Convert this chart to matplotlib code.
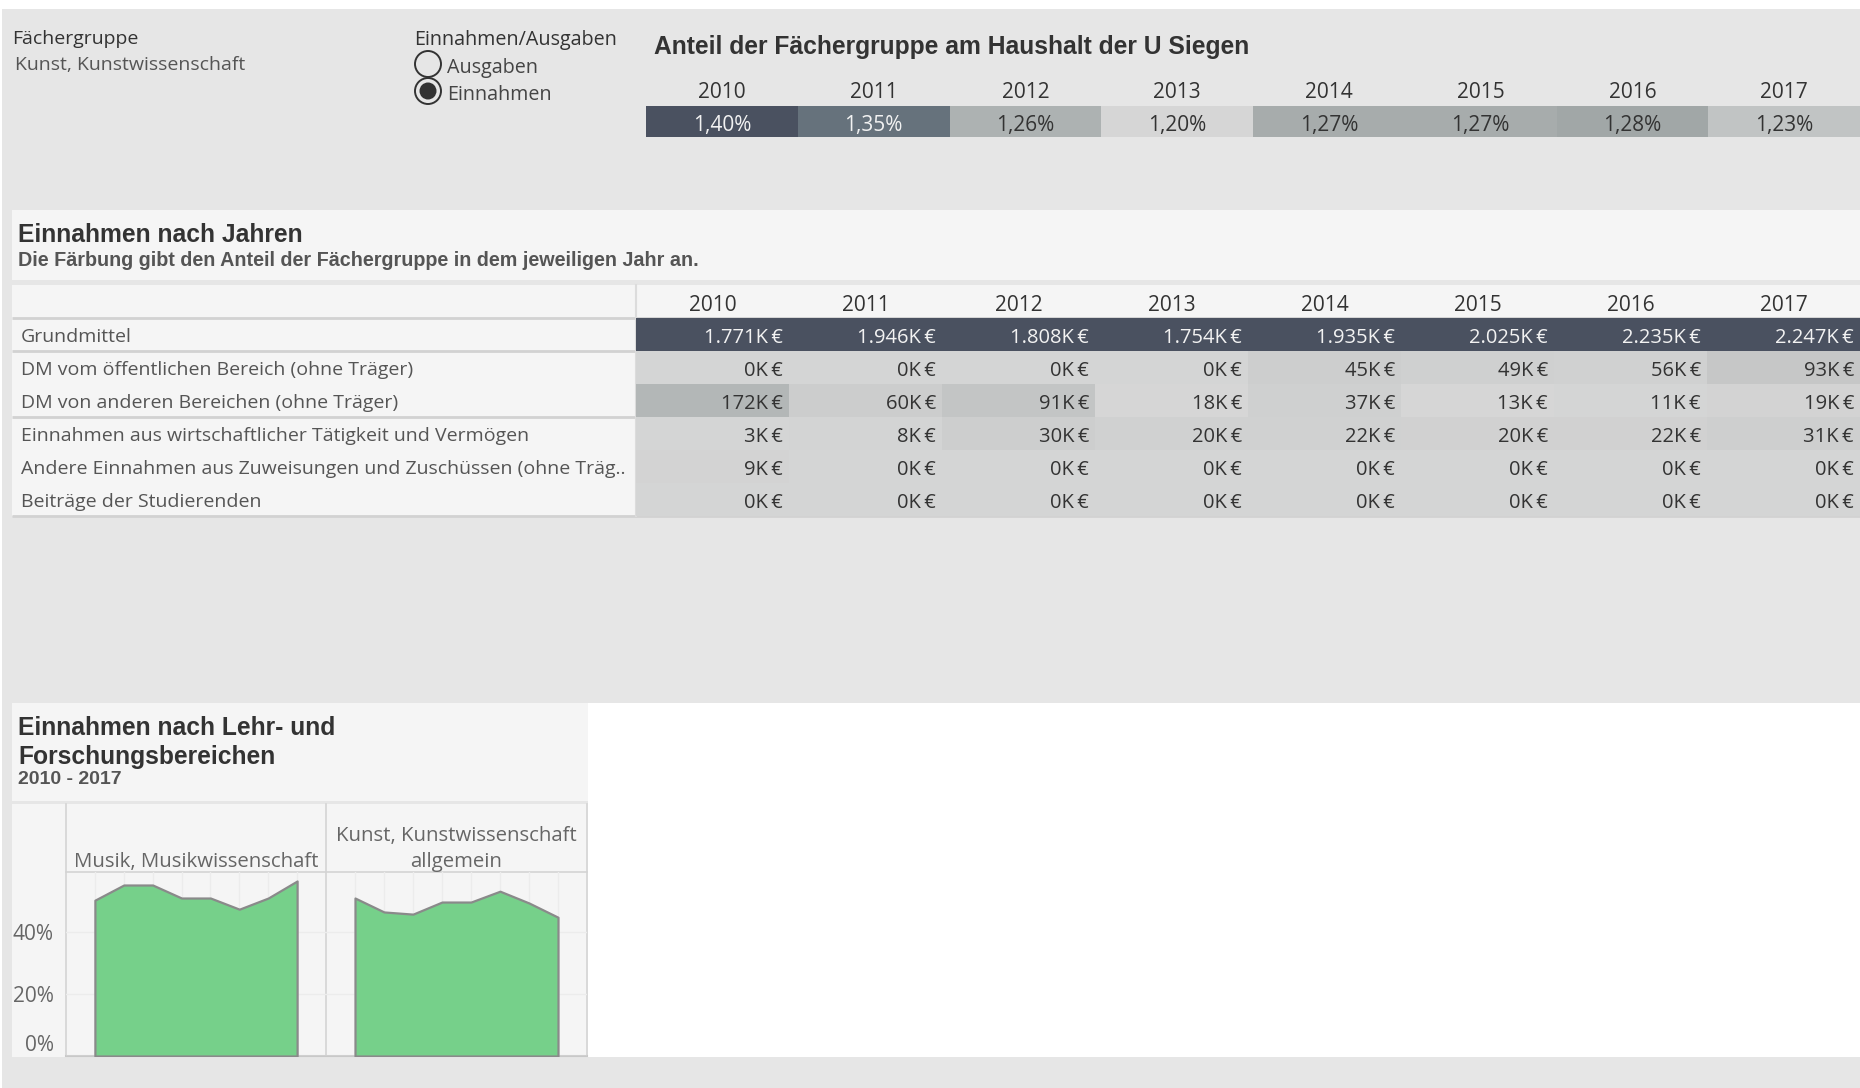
import numpy as np
import matplotlib
matplotlib.use('Agg')
import matplotlib.pyplot as plt
from matplotlib.colors import LinearSegmentedColormap, Normalize
from matplotlib.patches import Rectangle, Circle
from matplotlib.transforms import offset_copy

W, H = 1860, 1088

jahre = ['2010', '2011', '2012', '2013', '2014', '2015', '2016', '2017']
anteil_haushalt = [1.40, 1.35, 1.26, 1.20, 1.27, 1.27, 1.28, 1.23]

kategorien = [
    'Grundmittel',
    'DM vom öffentlichen Bereich (ohne Träger)',
    'DM von anderen Bereichen (ohne Träger)',
    'Einnahmen aus wirtschaftlicher Tätigkeit und Vermögen',
    'Andere Einnahmen aus Zuweisungen und Zuschüssen (ohne Träg..',
    'Beiträge der Studierenden',
]
# Einnahmen in K€
grundmittel = [1771, 1946, 1808, 1754, 1935, 2025, 2235, 2247]
dm_oeffentlich = [0, 0, 0, 0, 45, 49, 56, 93]
dm_andere = [172, 60, 91, 18, 37, 13, 11, 19]
wirtschaft = [3, 8, 30, 20, 22, 20, 22, 31]
zuweisungen = [9, 0, 0, 0, 0, 0, 0, 0]
beitraege = [0, 0, 0, 0, 0, 0, 0, 0]
# Anteil der Fächergruppe (Färbung, geschätzt in %)
faerb_grund = [1.5, 1.5, 1.5, 1.5, 1.5, 1.5, 1.5, 1.5]
faerb_oeff = [0.02, 0.02, 0.02, 0.02, 0.10, 0.08, 0.07, 0.18]
faerb_andere = [0.37, 0.11, 0.21, 0.0, 0.08, 0.0, 0.02, 0.04]
faerb_wirt = [0.02, 0.03, 0.10, 0.07, 0.07, 0.06, 0.06, 0.09]
faerb_zuw = [0.04, 0.02, 0.02, 0.02, 0.02, 0.02, 0.02, 0.02]
faerb_beitr = [0.02, 0.02, 0.02, 0.02, 0.02, 0.02, 0.02, 0.02]

bereiche = ['Musik, Musikwissenschaft', 'Kunst, Kunstwissenschaft\nallgemein']
anteil_musik = [50.3, 55.2, 55.2, 51.0, 51.0, 47.4, 51.0, 56.5]
anteil_kunst = [51.0, 46.5, 45.8, 49.7, 49.7, 53.2, 49.4, 44.8]

FONT = ['Open Sans', 'DejaVu Sans']
TFONT = ['Liberation Sans', 'DejaVu Sans']
plt.rcParams['font.family'] = FONT

cmap = LinearSegmentedColormap.from_list(
    'tab_grau', [(0, '#d6d6d6'), (0.25, '#b3b7b7'), (0.5, '#959c9c'),
                 (0.75, '#66727c'), (1, '#4a5160')])

fig = plt.figure(figsize=(W / 100, H / 100), dpi=100)
fig.patch.set_facecolor('white')


def px_axes(x0, y0, x1, y1):
    return fig.add_axes([x0 / W, 1 - y1 / H, (x1 - x0) / W, (y1 - y0) / H])


bg = px_axes(0, 0, W, H)
bg.set_xlim(0, W)
bg.set_ylim(H, 0)
bg.axis('off')

bg.add_patch(Rectangle((2, 9), W, H, color='#e6e6e6', lw=0))
# panels
bg.add_patch(Rectangle((12, 210), W, 70, color='#f5f5f5', lw=0))
bg.add_patch(Rectangle((12, 285), W, 231, color='#f5f5f5', lw=0))
bg.add_patch(Rectangle((12, 703), 576, 98, color='#f5f5f5', lw=0))
bg.add_patch(Rectangle((12, 804), 576, 253, color='#f5f5f5', lw=0))
bg.add_patch(Rectangle((588, 703), W, 354, color='white', lw=0))

# filters
bg.text(12, 37, 'Fächergruppe', fontsize=14, color='#333333', va='center_baseline')
bg.text(15, 63, 'Kunst, Kunstwissenschaft', fontsize=14, color='#555555', va='center_baseline')
bg.text(414, 37, 'Einnahmen/Ausgaben', fontsize=14.2, color='#333333', va='center_baseline')
bg.add_patch(Circle((428, 64), 13, fill=False, ec='#333333', lw=1.4))
bg.add_patch(Circle((428, 91), 13, fill=False, ec='#333333', lw=1.4))
bg.add_patch(Circle((428, 91), 8.5, color='#333333', lw=0))
bg.text(447, 65, 'Ausgaben', fontsize=14.2, color='#444444', va='center_baseline')
bg.text(447, 92, 'Einnahmen', fontsize=14.2, color='#444444', va='center_baseline')

# titles
bg.text(654, 47, 'Anteil der Fächergruppe am Haushalt der U Siegen', family=TFONT,
        fontsize=17.7, fontweight='bold', color='#333333', va='center')
bg.text(18, 235, 'Einnahmen nach Jahren', family=TFONT, fontsize=17.7,
        fontweight='bold', color='#333333', va='center')
bg.text(18, 260, 'Die Färbung gibt den Anteil der Fächergruppe in dem jeweiligen Jahr an.',
        family=TFONT, fontsize=14.2, fontweight='bold', color='#555555', va='center')
bg.text(18, 728, 'Einnahmen nach Lehr- und', family=TFONT, fontsize=17.7,
        fontweight='bold', color='#333333', va='center')
bg.text(18, 757, 'Forschungsbereichen', family=TFONT, fontsize=17.7,
        fontweight='bold', color='#333333', va='center')
bg.text(18, 780, '2010 - 2017', family=TFONT, fontsize=14,
        fontweight='bold', color='#555555', va='center')

# table separators
for y in [318, 351, 417, 516]:
    bg.plot([12, W], [y, y], color='#d2d2d2', lw=2, solid_capstyle='butt')
bg.plot([636, 636], [285, 516], color='#dcdcdc', lw=1.5)

# chart frames
for x in [66, 326, 587]:
    bg.plot([x, x], [804, 1056], color='#d4d4d4', lw=1.2)
bg.plot([66, 587], [872, 872], color='#d4d4d4', lw=1.2)
bg.plot([66, 587], [1056, 1056], color='#c8c8c8', lw=1.5)

# ---- top heat strip
ax_top = px_axes(646, 106, 1860, 137)
n = len(jahre)
norm_top = Normalize(1.20, 1.40)
ax_top.pcolormesh(np.arange(n + 1), [0, 1], np.array([anteil_haushalt]),
                  cmap=cmap, norm=norm_top)
ax_top.set_xlim(0, n)
ax_top.set_ylim(1, 0)
for i, v in enumerate(anteil_haushalt):
    col = '#f2f2f2' if norm_top(v) > 0.6 else '#333333'
    ax_top.text(i + 0.5, 0.55, f'{v:.2f}'.replace('.', ',') + '%', ha='center',
                va='center_baseline', fontsize=15, color=col)
ax_top.xaxis.tick_top()
ax_top.set_xticks(np.arange(n) + 0.5, jahre)
ax_top.tick_params(axis='x', length=0, pad=2.5, labelsize=15, labelcolor='#333333')
ax_top.set_yticks([])
for s in ax_top.spines.values():
    s.set_visible(False)

# ---- table
werte = [grundmittel, dm_oeffentlich, dm_andere, wirtschaft, zuweisungen, beitraege]
faerbung = np.array([faerb_grund, faerb_oeff, faerb_andere, faerb_wirt, faerb_zuw, faerb_beitr])
norm_tab = Normalize(0, 1.5)
ax_t = px_axes(636, 285, 1860, 516)
ax_t.set_facecolor('none')
ax_t.pcolormesh(np.arange(n + 1), np.arange(1, len(kategorien) + 2), faerbung,
                cmap=cmap, norm=norm_tab)
ax_t.set_xlim(0, n)
ax_t.set_ylim(len(kategorien) + 1, 0)
for i, j in enumerate(jahre):
    ax_t.text(i + 0.5, 0.55, j, ha='center', va='center_baseline', fontsize=15,
              color='#333333')
for r, row in enumerate(werte):
    for i, v in enumerate(row):
        col = '#f2f2f2' if norm_tab(faerbung[r][i]) > 0.6 else '#333333'
        ax_t.text(i + 0.96, r + 1.53, f'{v:,}'.replace(',', '.') + 'K\u2009€',
                  ha='right', va='center_baseline', fontsize=14.5, color=col)
ax_t.set_yticks(np.arange(len(kategorien)) + 1.53, kategorien)
ax_t.tick_params(axis='y', length=0, pad=443, labelsize=14, labelcolor='#555555')
for lab in ax_t.get_yticklabels():
    lab.set_ha('left')
    lab.set_va('center_baseline')
ax_t.set_xticks([])
for s in ax_t.spines.values():
    s.set_visible(False)

# ---- area charts
x = np.arange(n)
ax1 = px_axes(66, 872, 326, 1056)
ax2 = px_axes(326, 872, 587, 1056)
for ax, vals, name in [(ax1, anteil_musik, bereiche[0]), (ax2, anteil_kunst, bereiche[1])]:
    ax.set_facecolor('none')
    ax.fill_between(x, vals, color='#76d08a', ec='#8a8a8a', lw=1.6, zorder=3)
    ax.set_xlim(-1, n)
    ax.set_ylim(0, 59.4)
    ax.set_xticks(x)
    ax.set_yticks([0, 20, 40])
    ax.grid(True, color='#ececec', lw=1, zorder=0)
    ax.tick_params(length=0, labelbottom=False, labelleft=False)
    for s in ax.spines.values():
        s.set_visible(False)
    tr = offset_copy(ax.transAxes, fig=fig, y=0.3, units='points')
    ax.text(0.5, 1, name, transform=tr, ha='center', va='bottom', fontsize=14.7,
            color='#666666', linespacing=1.38)
ax1.set_yticks([0, 20, 40], ['0%', '20%', '40%'])
ax1.tick_params(axis='y', labelleft=True, pad=9, labelsize=15, labelcolor='#666666')
ax1.get_yticklabels()[0].set_va('bottom')

fig.savefig('out.png', dpi=100)
